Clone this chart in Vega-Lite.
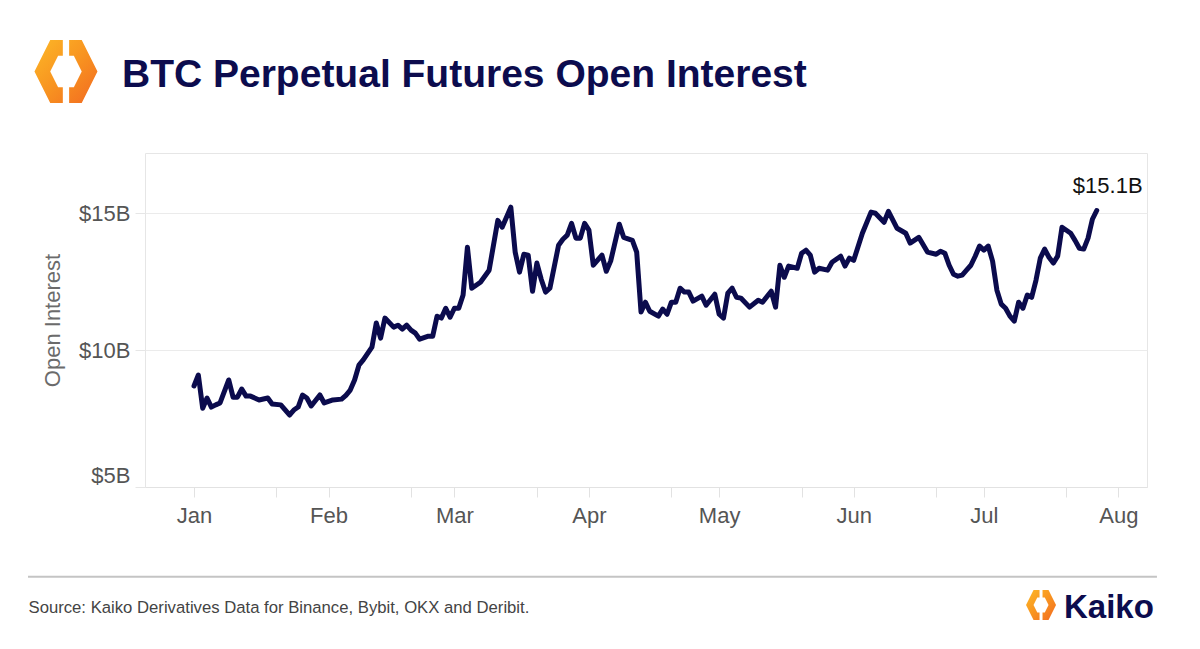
{
  "$schema": "https://vega.github.io/schema/vega-lite/v6.json",
  "width": 1002,
  "height": 334,
  "autosize": {"type": "none"},
  "padding": {"left": 145, "top": 153, "right": 53, "bottom": 162},
  "background": "white",
  "config": {
    "view": {"stroke": "#e6e6e6"},
    "font": "Liberation Sans"
  },
  "title": {
    "text": "BTC Perpetual Futures Open Interest",
    "anchor": "start",
    "frame": "group",
    "dx": -23,
    "offset": -86.5,
    "baseline": "alphabetic",
    "fontSize": 39,
    "font": "Liberation Sans",
    "fontWeight": "bold",
    "color": "#0c0c4e"
  },
  "data": {
    "values": [
      {"date": "2024-01-01", "oi": 8.69}, {"date": "2024-01-02", "oi": 9.09}, {"date": "2024-01-03", "oi": 7.88},
      {"date": "2024-01-04", "oi": 8.25}, {"date": "2024-01-05", "oi": 7.92}, {"date": "2024-01-06", "oi": 8.0},
      {"date": "2024-01-07", "oi": 8.07}, {"date": "2024-01-09", "oi": 8.91}, {"date": "2024-01-10", "oi": 8.28},
      {"date": "2024-01-11", "oi": 8.28}, {"date": "2024-01-12", "oi": 8.58}, {"date": "2024-01-13", "oi": 8.32},
      {"date": "2024-01-14", "oi": 8.32}, {"date": "2024-01-16", "oi": 8.18}, {"date": "2024-01-18", "oi": 8.25},
      {"date": "2024-01-19", "oi": 8.03}, {"date": "2024-01-21", "oi": 8.0}, {"date": "2024-01-23", "oi": 7.63},
      {"date": "2024-01-24", "oi": 7.81}, {"date": "2024-01-25", "oi": 7.92}, {"date": "2024-01-26", "oi": 8.36},
      {"date": "2024-01-27", "oi": 8.25}, {"date": "2024-01-28", "oi": 7.96}, {"date": "2024-01-30", "oi": 8.36},
      {"date": "2024-01-31", "oi": 8.07}, {"date": "2024-02-02", "oi": 8.18}, {"date": "2024-02-04", "oi": 8.21},
      {"date": "2024-02-05", "oi": 8.35}, {"date": "2024-02-06", "oi": 8.54}, {"date": "2024-02-07", "oi": 8.91},
      {"date": "2024-02-08", "oi": 9.45}, {"date": "2024-02-09", "oi": 9.64}, {"date": "2024-02-11", "oi": 10.11},
      {"date": "2024-02-12", "oi": 10.99}, {"date": "2024-02-13", "oi": 10.44}, {"date": "2024-02-14", "oi": 11.17},
      {"date": "2024-02-16", "oi": 10.84}, {"date": "2024-02-17", "oi": 10.91}, {"date": "2024-02-18", "oi": 10.77},
      {"date": "2024-02-19", "oi": 10.91}, {"date": "2024-02-20", "oi": 10.73}, {"date": "2024-02-21", "oi": 10.62},
      {"date": "2024-02-22", "oi": 10.4}, {"date": "2024-02-24", "oi": 10.51}, {"date": "2024-02-25", "oi": 10.51},
      {"date": "2024-02-26", "oi": 11.24}, {"date": "2024-02-27", "oi": 11.17}, {"date": "2024-02-28", "oi": 11.53},
      {"date": "2024-02-29", "oi": 11.2}, {"date": "2024-03-01", "oi": 11.53}, {"date": "2024-03-02", "oi": 11.53},
      {"date": "2024-03-03", "oi": 12.01}, {"date": "2024-03-04", "oi": 13.76}, {"date": "2024-03-05", "oi": 12.26},
      {"date": "2024-03-07", "oi": 12.48}, {"date": "2024-03-08", "oi": 12.7}, {"date": "2024-03-09", "oi": 12.92},
      {"date": "2024-03-11", "oi": 14.74}, {"date": "2024-03-12", "oi": 14.49}, {"date": "2024-03-14", "oi": 15.22},
      {"date": "2024-03-15", "oi": 13.58}, {"date": "2024-03-16", "oi": 12.85}, {"date": "2024-03-17", "oi": 13.5},
      {"date": "2024-03-18", "oi": 13.47}, {"date": "2024-03-19", "oi": 12.15}, {"date": "2024-03-20", "oi": 13.18},
      {"date": "2024-03-21", "oi": 12.59}, {"date": "2024-03-22", "oi": 12.12}, {"date": "2024-03-23", "oi": 12.26},
      {"date": "2024-03-25", "oi": 13.83}, {"date": "2024-03-26", "oi": 14.05}, {"date": "2024-03-27", "oi": 14.2},
      {"date": "2024-03-28", "oi": 14.63}, {"date": "2024-03-29", "oi": 14.09}, {"date": "2024-03-30", "oi": 14.09},
      {"date": "2024-03-31", "oi": 14.63}, {"date": "2024-04-01", "oi": 14.38}, {"date": "2024-04-02", "oi": 13.1},
      {"date": "2024-04-04", "oi": 13.47}, {"date": "2024-04-05", "oi": 12.88}, {"date": "2024-04-06", "oi": 13.25},
      {"date": "2024-04-08", "oi": 14.6}, {"date": "2024-04-09", "oi": 14.12}, {"date": "2024-04-11", "oi": 14.01},
      {"date": "2024-04-12", "oi": 13.58}, {"date": "2024-04-13", "oi": 11.39}, {"date": "2024-04-14", "oi": 11.75},
      {"date": "2024-04-15", "oi": 11.42}, {"date": "2024-04-17", "oi": 11.24}, {"date": "2024-04-18", "oi": 11.5},
      {"date": "2024-04-19", "oi": 11.31}, {"date": "2024-04-20", "oi": 11.75}, {"date": "2024-04-21", "oi": 11.75},
      {"date": "2024-04-22", "oi": 12.26}, {"date": "2024-04-23", "oi": 12.12}, {"date": "2024-04-24", "oi": 12.12},
      {"date": "2024-04-25", "oi": 11.79}, {"date": "2024-04-27", "oi": 11.97}, {"date": "2024-04-28", "oi": 11.64},
      {"date": "2024-04-30", "oi": 12.04}, {"date": "2024-05-01", "oi": 11.31}, {"date": "2024-05-02", "oi": 11.17},
      {"date": "2024-05-03", "oi": 12.08}, {"date": "2024-05-04", "oi": 12.26}, {"date": "2024-05-05", "oi": 11.93},
      {"date": "2024-05-06", "oi": 11.9}, {"date": "2024-05-08", "oi": 11.57}, {"date": "2024-05-10", "oi": 11.82},
      {"date": "2024-05-11", "oi": 11.75}, {"date": "2024-05-13", "oi": 12.15}, {"date": "2024-05-14", "oi": 11.57},
      {"date": "2024-05-15", "oi": 13.1}, {"date": "2024-05-16", "oi": 12.66}, {"date": "2024-05-17", "oi": 13.07},
      {"date": "2024-05-19", "oi": 12.99}, {"date": "2024-05-20", "oi": 13.54}, {"date": "2024-05-21", "oi": 13.65},
      {"date": "2024-05-22", "oi": 13.47}, {"date": "2024-05-23", "oi": 12.85}, {"date": "2024-05-24", "oi": 12.99},
      {"date": "2024-05-26", "oi": 12.92}, {"date": "2024-05-27", "oi": 13.21}, {"date": "2024-05-29", "oi": 13.43},
      {"date": "2024-05-30", "oi": 13.07}, {"date": "2024-05-31", "oi": 13.36}, {"date": "2024-06-01", "oi": 13.28},
      {"date": "2024-06-03", "oi": 14.27}, {"date": "2024-06-05", "oi": 15.04}, {"date": "2024-06-06", "oi": 15.0},
      {"date": "2024-06-08", "oi": 14.67}, {"date": "2024-06-09", "oi": 15.07}, {"date": "2024-06-11", "oi": 14.45},
      {"date": "2024-06-13", "oi": 14.27}, {"date": "2024-06-14", "oi": 13.91}, {"date": "2024-06-16", "oi": 14.12},
      {"date": "2024-06-18", "oi": 13.58}, {"date": "2024-06-20", "oi": 13.5}, {"date": "2024-06-21", "oi": 13.61},
      {"date": "2024-06-22", "oi": 13.54}, {"date": "2024-06-23", "oi": 13.1}, {"date": "2024-06-24", "oi": 12.77},
      {"date": "2024-06-25", "oi": 12.7}, {"date": "2024-06-26", "oi": 12.74}, {"date": "2024-06-27", "oi": 12.92},
      {"date": "2024-06-28", "oi": 13.1}, {"date": "2024-06-29", "oi": 13.43}, {"date": "2024-06-30", "oi": 13.8},
      {"date": "2024-07-01", "oi": 13.65}, {"date": "2024-07-02", "oi": 13.8}, {"date": "2024-07-03", "oi": 13.25},
      {"date": "2024-07-04", "oi": 12.19}, {"date": "2024-07-05", "oi": 11.68}, {"date": "2024-07-06", "oi": 11.53},
      {"date": "2024-07-07", "oi": 11.24}, {"date": "2024-07-08", "oi": 11.06}, {"date": "2024-07-09", "oi": 11.75},
      {"date": "2024-07-10", "oi": 11.53}, {"date": "2024-07-11", "oi": 12.01}, {"date": "2024-07-12", "oi": 11.93},
      {"date": "2024-07-13", "oi": 12.55}, {"date": "2024-07-14", "oi": 13.36}, {"date": "2024-07-15", "oi": 13.69},
      {"date": "2024-07-16", "oi": 13.39}, {"date": "2024-07-17", "oi": 13.18}, {"date": "2024-07-18", "oi": 13.43},
      {"date": "2024-07-19", "oi": 14.49}, {"date": "2024-07-20", "oi": 14.38}, {"date": "2024-07-21", "oi": 14.27},
      {"date": "2024-07-22", "oi": 14.01}, {"date": "2024-07-23", "oi": 13.72}, {"date": "2024-07-24", "oi": 13.69},
      {"date": "2024-07-25", "oi": 14.09}, {"date": "2024-07-26", "oi": 14.78}, {"date": "2024-07-27", "oi": 15.1}
    ]
  },
  "layer": [
    {
      "mark": {"type": "line", "color": "#0b0b4d", "strokeWidth": 5, "strokeJoin": "round", "strokeCap": "round"},
      "encoding": {
        "x": {
          "field": "date",
          "type": "temporal",
          "scale": {
            "type": "utc",
            "domain": [
              {"year": 2023, "month": 12, "date": 20, "hours": 17, "utc": true},
              {"year": 2024, "month": 8, "date": 7, "hours": 14, "utc": true}
            ]
          },
          "axis": {
            "values": [
              {"year": 2024, "month": 1, "date": 1, "utc": true},
              {"year": 2024, "month": 1, "date": 20, "utc": true},
              {"year": 2024, "month": 2, "date": 1, "utc": true},
              {"year": 2024, "month": 2, "date": 20, "utc": true},
              {"year": 2024, "month": 3, "date": 1, "utc": true},
              {"year": 2024, "month": 3, "date": 20, "utc": true},
              {"year": 2024, "month": 4, "date": 1, "utc": true},
              {"year": 2024, "month": 4, "date": 20, "utc": true},
              {"year": 2024, "month": 5, "date": 1, "utc": true},
              {"year": 2024, "month": 5, "date": 20, "utc": true},
              {"year": 2024, "month": 6, "date": 1, "utc": true},
              {"year": 2024, "month": 6, "date": 20, "utc": true},
              {"year": 2024, "month": 7, "date": 1, "utc": true},
              {"year": 2024, "month": 7, "date": 20, "utc": true},
              {"year": 2024, "month": 8, "date": 1, "utc": true}
            ],
            "labelExpr": "utcdate(datum.value) === 1 ? utcFormat(datum.value, '%b') : ''",
            "labelFontSize": 22,
            "labelColor": "#555555",
            "labelFont": "Liberation Sans",
            "labelPadding": 8,
            "labelOverlap": false,
            "labelFlush": false,
            "tickSize": 10,
            "tickColor": "#e2e2e2",
            "domainColor": "#e2e2e2",
            "grid": false,
            "title": "Source: Kaiko Derivatives Data for Binance, Bybit, OKX and Deribit.",
            "titleX": -117,
            "titleY": 125,
            "titleAlign": "left",
            "titleBaseline": "alphabetic",
            "titleFontSize": 16.7,
            "titleFontWeight": "normal",
            "titleFont": "Liberation Sans",
            "titleColor": "#444444"
          }
        },
        "y": {
          "field": "oi",
          "type": "quantitative",
          "scale": {"domain": [5, 17.2], "zero": false, "nice": false},
          "axis": {
            "values": [5, 10, 15],
            "labelExpr": "'$' + datum.value + 'B'",
            "labelFontSize": 22,
            "labelColor": "#555555",
            "labelFont": "Liberation Sans",
            "labelPadding": 5,
            "labelFlush": true,
            "tickSize": 10,
            "tickColor": "#e6e6e6",
            "domain": false,
            "gridColor": "#ebebeb",
            "title": "Open Interest",
            "titleFontSize": 22,
            "titleFontWeight": "normal",
            "titleFont": "Liberation Sans",
            "titleColor": "#6b6b6b",
            "titleX": -86,
            "titleY": 167,
            "titleAngle": -90,
            "titleAlign": "center",
            "titleBaseline": "alphabetic"
          }
        }
      }
    },
    {
      "transform": [
        {"window": [{"op": "rank", "as": "r"}], "sort": [{"field": "date", "order": "descending"}]},
        {"filter": "datum.r == 1"}
      ],
      "mark": {"type": "text", "fontSize": 22, "color": "#111111", "dx": 11, "dy": -17, "baseline": "alphabetic", "align": "center", "font": "Liberation Sans"},
      "encoding": {
        "x": {"field": "date", "type": "temporal"},
        "y": {"field": "oi", "type": "quantitative"},
        "text": {"value": "$15.1B"}
      }
    },
    {
      "data": {"values": [{}]},
      "mark": {"type": "rule", "color": "#c4c4c4", "strokeWidth": 2},
      "encoding": {
        "x": {"datum": {"year": 2023, "month": 11, "date": 23, "hours": 18, "utc": true}, "type": "temporal"},
        "x2": {"datum": {"year": 2024, "month": 8, "date": 9, "hours": 21, "utc": true}},
        "y": {"datum": 1.72, "type": "quantitative"}
      }
    },
    {
      "data": {"values": [{}]},
      "mark": {"type": "text", "text": "Kaiko", "fontSize": 33, "fontWeight": "bold", "font": "Liberation Sans", "color": "#0c0c4e", "align": "left", "baseline": "alphabetic"},
      "encoding": {
        "x": {"datum": {"year": 2024, "month": 7, "date": 19, "hours": 11, "utc": true}, "type": "temporal"},
        "y": {"datum": 0.22, "type": "quantitative"}
      }
    },
    {
      "data": {"values": [{"size": 3969, "when": "2023-12-02T12:00:00Z", "v": 20.18}, {"size": 900, "when": "2024-07-14T04:00:00Z", "v": 0.69}]},
      "mark": {
        "type": "point",
        "filled": true,
        "opacity": 1,
        "strokeWidth": 0,
        "shape": "M-0.1,-1L-0.5,-1L-1,0L-0.5,1L-0.1,1L-0.1,0.5L-0.25,0.5L-0.5,0L-0.25,-0.5L-0.1,-0.5ZM0.1,-1L0.5,-1L1,0L0.5,1L0.1,1L0.1,0.5L0.25,0.5L0.5,0L0.25,-0.5L0.1,-0.5Z",
        "fill": {"gradient": "linear", "x1": 0, "y1": 0, "x2": 1, "y2": 1, "stops": [{"offset": 0, "color": "#fdb827"}, {"offset": 0.5, "color": "#f89420"}, {"offset": 1, "color": "#f26a21"}]}
      },
      "encoding": {
        "x": {"field": "when", "type": "temporal"},
        "y": {"field": "v", "type": "quantitative"},
        "size": {"field": "size", "type": "quantitative", "scale": null, "legend": null}
      }
    }
  ]
}
